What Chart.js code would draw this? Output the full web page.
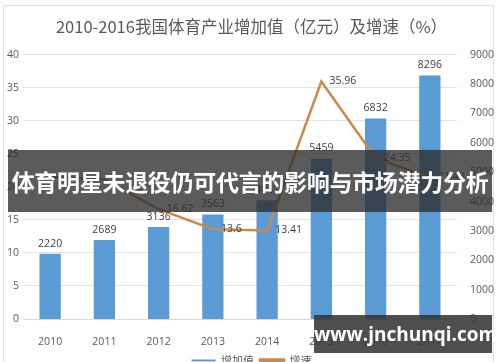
<!DOCTYPE html>
<html>
<head>
<meta charset="utf-8">
<script src="https://cdn.jsdelivr.net/npm/chart.js@4/dist/chart.umd.min.js"></script>
<style>
  html, body { margin: 0; padding: 0; background: #fff; }
  #wrap { position: relative; width: 500px; height: 362px; overflow: hidden; }
  #myChart { position: absolute; left: 0; top: 0; }
  #frame { position: absolute; left: 3px; top: 5px; width: 489px; height: 370px; border: 1px solid #e2e2e2; }
  #banner { position: absolute; left: 8px; top: 150px; width: 484px; height: 62px;
    background: rgba(45,45,45,0.78); color: #fff; font: bold 23px "Noto Sans CJK SC", sans-serif;
    line-height: 62px; text-align: center; letter-spacing: -0.3px; white-space: nowrap; }
  #mark { position: absolute; left: 314px; top: 315px; width: 178px; height: 38px;
    background: rgba(55,55,55,0.88); color: #fff; font: bold 19px "Open Sans", sans-serif;
    line-height: 38px; text-align: center; }
</style>
</head>
<body>
<div id="wrap">
  <div id="frame"></div>
  <canvas id="myChart" width="500" height="376"></canvas>
  <div id="banner">体育明星未退役仍可代言的影响与市场潜力分析</div>
  <div id="mark">www.jnchunqi.com</div>
</div>
<script>
var years = ['2010', '2011', '2012', '2013', '2014', '2015', '2016', '2017'];
var addedValue = [2220, 2689, 3136, 3563, 4041, 5459, 6832, 8296];
var growthRate = [21.5, 21.12, 16.62, 13.6, 13.41, 35.96, 24.35, 21.43];
var leftTicks = [0, 5, 10, 15, 20, 25, 30, 35, 40];
var rightTicks = [0, 1000, 2000, 3000, 4000, 5000, 6000, 7000, 8000, 9000];

var labelFont = '10.5px "Open Sans", sans-serif';

// draws the value labels like excel does
const valueLabels = {
  id: 'valueLabels',
  afterDatasetsDraw(chart) {
    const ctx = chart.ctx;
    ctx.save();
    ctx.font = labelFont;
    ctx.fillStyle = '#404040';
    chart.getDatasetMeta(0).data.forEach((bar, i) => {
      ctx.textAlign = 'center';
      ctx.textBaseline = 'bottom';
      ctx.fillText(addedValue[i], bar.x, bar.y - 5);
    });
    chart.getDatasetMeta(1).data.forEach((pt, i) => {
      if (i < 2) return;
      ctx.textAlign = 'left';
      ctx.textBaseline = 'middle';
      ctx.fillText(growthRate[i], pt.x + 8, pt.y);
    });
    ctx.restore();
  }
};

let chartOne = document.getElementById('myChart');

const myChart = new Chart(chartOne, {
  data: {
    labels: years,
    datasets: [{
      type: 'bar',
      label: '增加值',
      data: addedValue,
      yAxisID: 'yRight',
      backgroundColor: '#5b9bd5',
      barPercentage: 0.8,
      categoryPercentage: 0.49,
      order: 2
    }, {
      type: 'line',
      label: '增速',
      data: growthRate,
      yAxisID: 'yLeft',
      borderColor: '#cf884b',
      backgroundColor: '#cf884b',
      borderWidth: 2.5,
      pointRadius: 0,
      tension: 0,
      fill: false,
      order: 1
    }]
  },
  options: {
    responsive: false,
    animation: false,
    layout: { padding: { left: 6, right: 3, top: 0, bottom: 0 } },
    plugins: {
      title: {
        display: true,
        text: '2010-2016我国体育产业增加值（亿元）及增速（%）',
        color: '#595959',
        font: { family: '"Noto Sans CJK SC", sans-serif', size: 16.5, weight: 'normal' },
        padding: { top: 17, bottom: 18 }
      },
      legend: {
        position: 'bottom',
        labels: {
          boxWidth: 24,
          boxHeight: 2,
          color: '#595959',
          font: { family: '"Noto Sans CJK SC", sans-serif', size: 11 },
          padding: 6,
          sort: (a, b) => a.datasetIndex - b.datasetIndex
        }
      },
      tooltip: { enabled: false }
    },
    scales: {
      x: {
        grid: { display: false },
        border: { color: '#d9d9d9' },
        afterFit: (s) => { s.height = 30; },
        ticks: { color: '#595959', font: { family: '"Open Sans", sans-serif', size: 10.5 }, padding: 9 }
      },
      yLeft: {
        position: 'left',
        min: 0, max: 40,
        afterBuildTicks: (s) => { s.ticks = leftTicks.map(v => ({ value: v })); },
        afterFit: (s) => { s.width = 17; },
        grid: { color: '#e3e3e3', drawTicks: false },
        border: { display: false },
        ticks: { color: '#595959', font: { family: '"Open Sans", sans-serif', size: 10.5 }, padding: 4 }
      },
      yRight: {
        position: 'right',
        min: 0, max: 9000,
        afterBuildTicks: (s) => { s.ticks = rightTicks.map(v => ({ value: v })); },
        afterFit: (s) => { s.width = 40; },
        grid: { display: false },
        border: { display: false },
        ticks: {
          color: '#595959', font: { family: '"Open Sans", sans-serif', size: 10.5 }, padding: 5,
          callback: (v) => String(v)
        }
      }
    }
  },
  plugins: [valueLabels]
});
</script>
</body>
</html>
